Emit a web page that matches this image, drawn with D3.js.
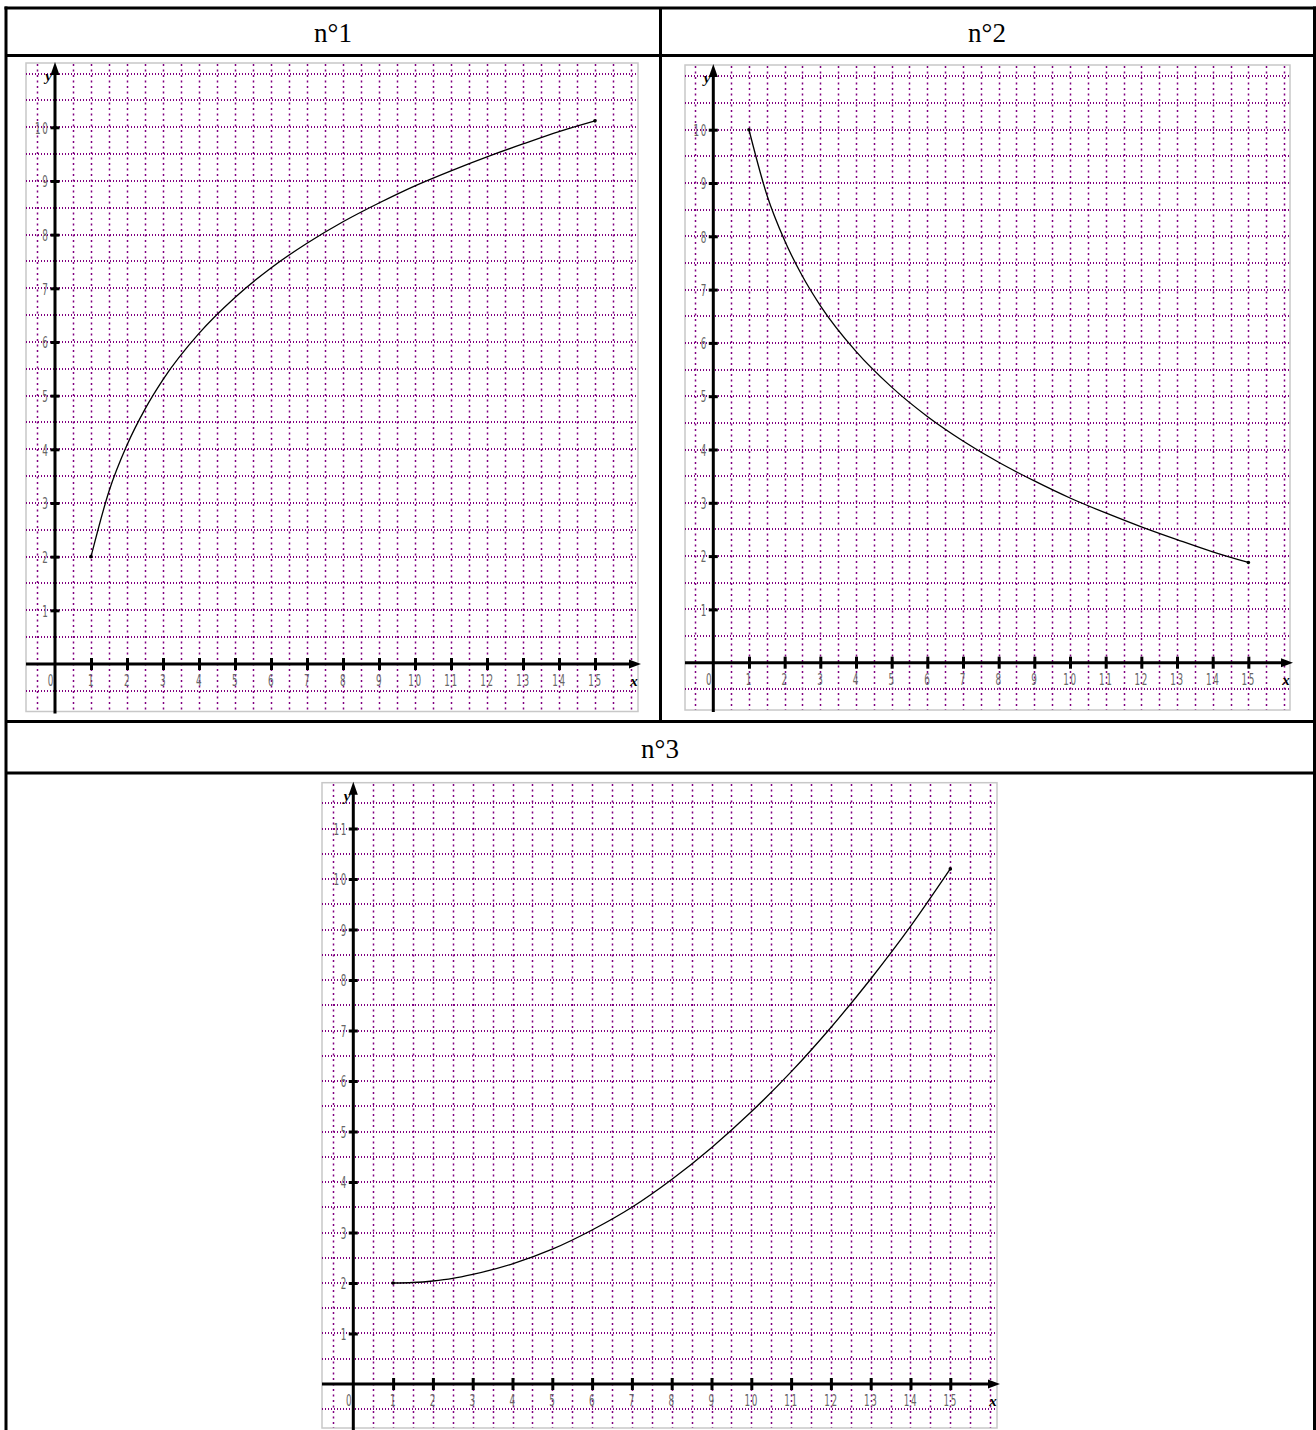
<!DOCTYPE html>
<html>
<head>
<meta charset="utf-8">
<script src="https://cdn.jsdelivr.net/npm/d3@7"></script>
<style>
  body { margin: 0; background: #fff; }
  svg { display: block; }
</style>
</head>
<body>
<div id="chart"></div>
<script>
// values
var xValues = [1, 1.5, 2, 2.5, 3, 4, 5, 6, 7, 8, 9, 10, 11, 12, 13, 14, 15];
var series1 = [2, 3.22, 4.08, 4.75, 5.30, 6.16, 6.83, 7.38, 7.84, 8.24, 8.59, 8.91, 9.19, 9.45, 9.69, 9.92, 10.12];
var series2 = [10, 8.78, 7.92, 7.25, 6.70, 5.84, 5.17, 4.62, 4.16, 3.76, 3.41, 3.09, 2.81, 2.55, 2.31, 2.08, 1.88];
var series3 = [2, 2.01, 2.04, 2.09, 2.17, 2.38, 2.67, 3.05, 3.50, 4.05, 4.68, 5.39, 6.18, 7.06, 8.02, 9.06, 10.2];
var xTicks = [1, 2, 3, 4, 5, 6, 7, 8, 9, 10, 11, 12, 13, 14, 15];
var yTicksA = [1, 2, 3, 4, 5, 6, 7, 8, 9, 10];
var yTicksB = [1, 2, 3, 4, 5, 6, 7, 8, 9, 10, 11];
var titles = ["n°1", "n°2", "n°3"];

var W = 1316, H = 1430;
var svg = d3.select("#chart").append("svg")
    .attr("width", W)
    .attr("height", H);

// table
var table = svg.append("g").attr("stroke", "#000").attr("stroke-width", 3);
table.append("line").attr("x1", 4.5).attr("x2", 1316).attr("y1", 8).attr("y2", 8);
table.append("line").attr("x1", 6).attr("x2", 1314.5).attr("y1", 55.5).attr("y2", 55.5);
table.append("line").attr("x1", 6).attr("x2", 1314.5).attr("y1", 721.5).attr("y2", 721.5);
table.append("line").attr("x1", 6).attr("x2", 1314.5).attr("y1", 773).attr("y2", 773);
table.append("line").attr("x1", 6).attr("x2", 6).attr("y1", 6.5).attr("y2", H);
table.append("line").attr("x1", 1314.5).attr("x2", 1314.5).attr("y1", 6.5).attr("y2", H);
table.append("line").attr("x1", 660.5).attr("x2", 660.5).attr("y1", 8).attr("y2", 721.5);

var heads = [[333, 42], [987, 42], [660, 758]];
heads.forEach(function(h, i) {
    svg.append("text")
        .attr("x", h[0]).attr("y", h[1])
        .attr("text-anchor", "middle")
        .style("font-family", "'Liberation Serif', 'Times New Roman', Times, serif")
        .style("font-size", "27px")
        .text(titles[i]);
});

function drawPanel(p) {
    var x = d3.scaleLinear().domain([0, 16]).range([p.ox, p.ox + 16 * p.ux]);
    var y = d3.scaleLinear().domain([0, 12]).range([p.oy, p.oy - 12 * p.uy]);
    var g = svg.append("g");

    var x0 = x.invert(p.left), x1 = x.invert(p.right);
    var y0 = y.invert(p.bottom), y1 = y.invert(p.top);

    // border
    g.append("rect")
        .attr("x", p.left).attr("y", p.top)
        .attr("width", p.right - p.left).attr("height", p.bottom - p.top)
        .attr("fill", "none").attr("stroke", "#c8c8c8").attr("stroke-width", 1.5);

    // grid, every half unit
    var gx = d3.range(Math.ceil(x0 * 2) / 2, x1, 0.5).filter(function(d) { return d !== 0; });
    var gy = d3.range(Math.ceil(y0 * 2) / 2, y1, 0.5).filter(function(d) { return d !== 0; });

    g.selectAll(".vgrid").data(gx).enter().append("line")
        .attr("x1", function(d) { return Math.round(x(d)) + 0.5; })
        .attr("x2", function(d) { return Math.round(x(d)) + 0.5; })
        .attr("y1", Math.round(p.top) + 1).attr("y2", p.bottom)
        .attr("stroke", "#800080").attr("stroke-width", 1.5)
        .attr("stroke-dasharray", "2,3.5");

    g.append("g").attr("shape-rendering", "crispEdges")
      .selectAll(".hgrid").data(gy).enter().append("line")
        .attr("x1", p.left).attr("x2", p.right)
        .attr("y1", function(d) { return Math.round(y(d)); })
        .attr("y2", function(d) { return Math.round(y(d)); })
        .attr("stroke", "#800080").attr("stroke-width", 2)
        .attr("stroke-dasharray", "1,2");

    // axes lines + arrows
    g.append("line")
        .attr("x1", p.left).attr("x2", p.right - 4)
        .attr("y1", p.oy).attr("y2", p.oy)
        .attr("stroke", "#000").attr("stroke-width", 3);
    g.append("path")
        .attr("d", "M" + (p.right + 3) + "," + p.oy + "L" + (p.right - 9) + "," + (p.oy - 4.5) +
              "L" + (p.right - 9) + "," + (p.oy + 4.5) + "Z")
        .attr("fill", "#000");
    g.append("line")
        .attr("x1", p.ox).attr("x2", p.ox)
        .attr("y1", p.bottom + 2).attr("y2", p.top + 6)
        .attr("stroke", "#000").attr("stroke-width", 3);
    g.append("path")
        .attr("d", "M" + p.ox + "," + (p.top - 1) + "L" + (p.ox - 4.5) + "," + (p.top + 12) +
              "L" + (p.ox + 4.5) + "," + (p.top + 12) + "Z")
        .attr("fill", "#000");

    // x ticks
    var xAxis = d3.axisBottom(x).tickValues(xTicks).tickSizeInner(12).tickSizeOuter(0)
        .tickFormat(d3.format("d"));
    var xg = g.append("g").attr("transform", "translate(0," + (p.oy - 6) + ")").call(xAxis);
    xg.select(".domain").remove();
    xg.selectAll(".tick line").attr("stroke", "#000").attr("stroke-width", 3);
    xg.selectAll(".tick text")
        .attr("y", 28).attr("dy", null)
        .attr("fill", "#666")
        .style("font-family", "'DejaVu Sans', sans-serif")
        .style("font-size", "16px")
        .style("letter-spacing", "3px")
        .attr("transform", "scale(0.55,1)");

    // y ticks
    var yAxis = d3.axisLeft(y).tickValues(p.yTicks).tickSizeInner(9).tickSizeOuter(0)
        .tickFormat(d3.format("d"));
    var yg = g.append("g").attr("transform", "translate(" + (p.ox + 4.5) + ",0)").call(yAxis);
    yg.select(".domain").remove();
    yg.selectAll(".tick line").attr("stroke", "#000").attr("stroke-width", 3);
    yg.selectAll(".tick text")
        .attr("x", -18).attr("dy", "0.36em")
        .attr("fill", "#666")
        .style("font-family", "'DejaVu Sans', sans-serif")
        .style("font-size", "16px")
        .style("letter-spacing", "3px")
        .attr("transform", "scale(0.55,1)");

    // origin label
    g.append("text")
        .attr("transform", "translate(" + (p.ox - 4.5) + "," + (p.oy + 22) + ") scale(0.55,1)")
        .attr("text-anchor", "middle")
        .attr("fill", "#666")
        .style("font-family", "'DejaVu Sans', sans-serif")
        .style("font-size", "16px")
        .text("0");

    // axis names
    g.append("text")
        .attr("x", p.right - 4).attr("y", p.oy + 22)
        .attr("text-anchor", "middle")
        .style("font-family", "'Liberation Serif', serif")
        .style("font-style", "italic").style("font-weight", "bold")
        .style("font-size", "15px")
        .text("x");
    g.append("text")
        .attr("x", p.ox - 3).attr("y", p.top + 18)
        .attr("text-anchor", "end")
        .style("font-family", "'Liberation Serif', serif")
        .style("font-style", "italic").style("font-weight", "bold")
        .style("font-size", "15px")
        .text("y");

    // curve
    var pts = xValues.map(function(d, i) { return [d, p.values[i]]; });
    var line = d3.line()
        .x(function(d) { return x(d[0]); })
        .y(function(d) { return y(d[1]); })
        .curve(d3.curveMonotoneX);
    g.append("path")
        .datum(pts)
        .attr("d", line)
        .attr("fill", "none")
        .attr("stroke", "#000")
        .attr("stroke-width", 1.3);
    g.selectAll(".end").data([pts[0], pts[pts.length - 1]]).enter().append("circle")
        .attr("cx", function(d) { return x(d[0]); })
        .attr("cy", function(d) { return y(d[1]); })
        .attr("r", 1.8)
        .attr("fill", "#000");
}

drawPanel({ ox: 55, ux: 36, oy: 664, uy: 53.67, left: 26, right: 638, top: 63, bottom: 711.5,
            yTicks: yTicksA, values: series1 });
drawPanel({ ox: 713.3, ux: 35.67, oy: 662.7, uy: 53.3, left: 685, right: 1290, top: 65, bottom: 710,
            yTicks: yTicksA, values: series2 });
drawPanel({ ox: 353.3, ux: 39.8, oy: 1384, uy: 50.5, left: 322, right: 997, top: 782.7, bottom: 1428,
            yTicks: yTicksB, values: series3 });
</script>
</body>
</html>
